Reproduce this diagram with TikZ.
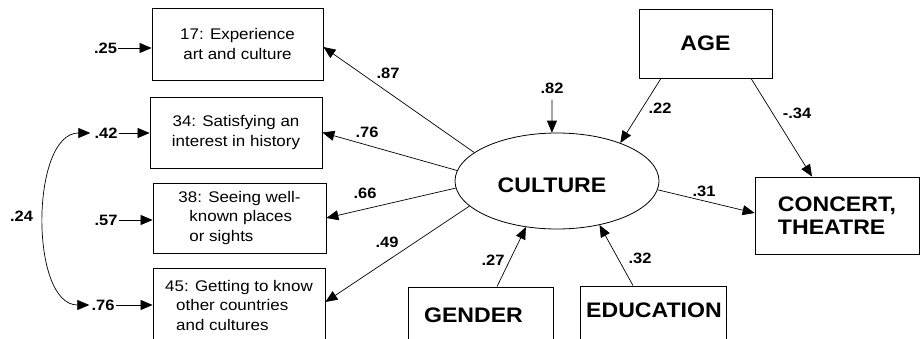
\documentclass[tikz,border=0pt]{standalone}
\usepackage{fontspec}
\setmainfont{Liberation Sans}[FakeStretch=1.1]
\usetikzlibrary{arrows.meta,shapes.geometric}
\begin{document}
\begin{tikzpicture}[x=1pt,y=-1pt,
  box/.style={draw, line width=0.8pt, rectangle, inner sep=0pt},
  txt/.style={font=\fontsize{15.4}{19.5}\selectfont, align=center},
  big/.style={font=\fontsize{21}{23}\selectfont\bfseries, inner sep=0pt},
  coef/.style={font=\fontsize{15}{17}\selectfont\bfseries, inner sep=1pt},
  link/.style={draw, line width=0.7pt, -{Triangle[length=12pt,width=10pt]}},
  cov/.style={draw, line width=0.7pt, {Triangle[length=12pt,width=10pt]}-{Triangle[length=12pt,width=10pt]}}]
\clip (0,0) rectangle (920,339);
\fill[white] (0,0) rectangle (920,339);

% indicator boxes
\node[box, txt, minimum width=171pt, minimum height=72pt] (b17) at (237.5,44) {17: Experience\\art and culture};
\node[box, txt, minimum width=172pt, minimum height=71pt] (b34) at (236,132.5) {34: Satisfying an\\interest in history};
\node[box, txt, align=left, minimum width=173pt, minimum height=70pt] (b38) at (239.5,218)
  {38: Seeing well-\\\hspace*{11pt}known places\\\hspace*{11pt}or sights};
\node[box, txt, align=left, minimum width=172pt, minimum height=74pt] (b45) at (239,305)
  {45: Getting to know\\\hspace*{11pt}other countries\\\hspace*{11pt}and cultures};

% latent factor and observed variables
\node[draw, ellipse, line width=0.8pt, minimum width=204pt, minimum height=96pt, inner sep=0pt] (culture) at (557,181) {};
\node[big] (culturetxt) at (552,185) {CULTURE};
\node[box, big, minimum width=133pt, minimum height=69pt] (age) at (705.5,43.5) {AGE};
\node[box, big, align=left, minimum width=164pt, minimum height=77pt] (concert) at (837,215.5) {CONCERT,\\THEATRE};
\node[box, minimum width=145pt, minimum height=66pt] (gender) at (480.5,320) {};
\node[big] (gendertxt) at (473.5,315) {GENDER};
\node[box, minimum width=146pt, minimum height=64pt] (educ) at (653,318) {};
\node[big] (eductxt) at (654,310) {EDUCATION};

% error terms
\node[coef] (e25) at (105.5,48) {.25};
\node[coef] (e42) at (106,133) {.42};
\node[coef] (e57) at (106,220) {.57};
\node[coef] (e76) at (103,305) {.76};
\node[coef] (e24) at (21.5,216) {.24};
\node[coef] (e82) at (552,88) {.82};

\draw[link] (e25.east) -- (e25.east -| b17.west);
\draw[link] (e42.east) -- (e42.east -| b34.west);
\draw[link] (e57.east) -- (e57.east -| b38.west);
\draw[link] (e76.east) -- (e76.east -| b45.west);
\draw[cov] ([xshift=-3pt]e42.west) .. controls +(-60,0) and +(-60,0) .. ([xshift=-1pt]e76.west);
\draw[link] ([yshift=-5pt]e82.south) -- (culture.96);

% loadings and paths
\draw[link] (culture.161) -- ([yshift=-3pt]b17.east);
\draw[link] (culture.174) -- (b34.east);
\draw[link] (culture.184) -- (b38.east);
\draw[link] (culture.196) -- ([yshift=3pt]b45.east);
\draw[link] ([xshift=-44.5pt]age.south) -- (culture.31);
\draw[link] ([xshift=45.5pt]age.south) -- ([xshift=-25pt]concert.north);
\draw[link] (culture.-5) -- ([yshift=2.5pt]concert.west);
\draw[link] ([xshift=16.5pt]gender.north) -- (culture.236);
\draw[link] ([xshift=-20pt]educ.north) -- (culture.-46);

% path coefficients
\node[coef] (l87) at (388,73) {.87};
\node[coef] (l76) at (367,132) {.76};
\node[coef] (l66) at (365,193) {.66};
\node[coef] (l49) at (387,242) {.49};
\node[coef] (l22) at (660,108) {.22};
\node[coef] (l34) at (797,113) {-.34};
\node[coef] (l31) at (704,191) {.31};
\node[coef] (l27) at (493,260) {.27};
\node[coef] (l32) at (640,258) {.32};
\end{tikzpicture}
\end{document}
